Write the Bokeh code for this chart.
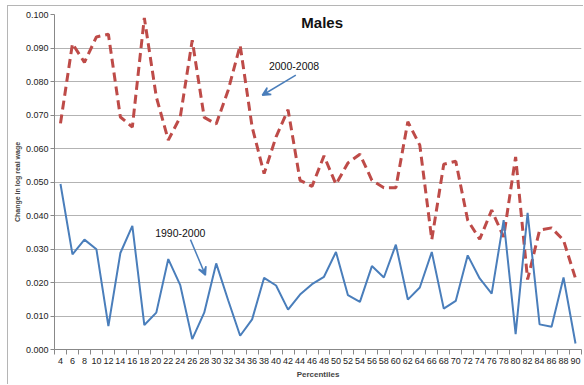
from bokeh.plotting import figure
from bokeh.models import Range1d, FixedTicker, Label, Arrow, VeeHead, CustomJSTickFormatter
from bokeh.embed import file_html
from bokeh.resources import INLINE

percentiles = list(range(4, 91, 2))
wage_2000_2008 = [0.0675, 0.0913, 0.0857, 0.0933, 0.0941, 0.0694, 0.0664, 0.0990, 0.0754, 0.0625,
                  0.0694, 0.0923, 0.0693, 0.0673, 0.0774, 0.0908, 0.0664, 0.0525, 0.0635, 0.0716,
                  0.0505, 0.0487, 0.0578, 0.0493, 0.0557, 0.0583, 0.0505, 0.0483, 0.0483, 0.0680,
                  0.0610, 0.0328, 0.0553, 0.0562, 0.0386, 0.0329, 0.0416, 0.0336, 0.0575, 0.0209,
                  0.0356, 0.0363, 0.0326, 0.0212]
wage_1990_2000 = [0.0494, 0.0284, 0.0328, 0.0299, 0.0070, 0.0288, 0.0369, 0.0073, 0.0110, 0.0270,
                  0.0192, 0.0031, 0.0110, 0.0257, 0.0147, 0.0041, 0.0090, 0.0214, 0.0191, 0.0119,
                  0.0164, 0.0195, 0.0217, 0.0291, 0.0162, 0.0142, 0.0249, 0.0215, 0.0313, 0.0149,
                  0.0185, 0.0291, 0.0122, 0.0145, 0.0281, 0.0212, 0.0167, 0.0386, 0.0046, 0.0408,
                  0.0075, 0.0068, 0.0215, 0.0018]
y_ticks = [round(0.01 * i, 3) for i in range(11)]
boundaries = [p - 1 for p in percentiles] + [percentiles[-1] + 1]

FONT = "Liberation Sans"
BLUE = "#4a7ebb"
RED = "#be4b48"

p = figure(width=576, height=379, output_backend="svg", toolbar_location=None,
           x_range=Range1d(3, 91), y_range=Range1d(0, 0.1),
           min_border_left=46, min_border_right=3, min_border_top=8, min_border_bottom=36)
p.styles = {"margin-left": "7px", "margin-top": "5px",
            "border-top": "1px solid #b5b5b5", "border-left": "1px solid #b5b5b5"}
p.outline_line_color = None
p.background_fill_color = "white"
p.border_fill_color = "white"

p.line(percentiles, wage_2000_2008, line_color=RED, line_width=3, line_dash="9 5")
p.line(percentiles, wage_1990_2000, line_color=BLUE, line_width=2)

# axes
p.xaxis.ticker = FixedTicker(ticks=percentiles, minor_ticks=boundaries)
p.xaxis.major_tick_line_color = None
p.xaxis.major_tick_out = 2
p.xaxis.major_tick_in = 0
p.xaxis.minor_tick_line_color = "#888888"
p.xaxis.minor_tick_out = 5
p.xaxis.minor_tick_in = 0
p.xaxis.axis_line_color = "#888888"
p.xaxis.major_label_text_font = FONT
p.xaxis.major_label_text_font_size = "9px"
p.xaxis.major_label_text_color = "#222222"
p.xaxis.major_label_standoff = 3
p.xaxis.axis_label = "Percentiles"
p.xaxis.axis_label_text_font = FONT
p.xaxis.axis_label_text_font_size = "8px"
p.xaxis.axis_label_text_font_style = "bold"
p.xaxis.axis_label_standoff = 3

p.yaxis.ticker = FixedTicker(ticks=y_ticks, minor_ticks=[])
p.yaxis.formatter = CustomJSTickFormatter(code="return tick.toFixed(3);")
p.yaxis.major_tick_line_color = "#888888"
p.yaxis.major_tick_out = 4
p.yaxis.major_tick_in = 0
p.yaxis.axis_line_color = "#888888"
p.yaxis.major_label_text_font = FONT
p.yaxis.major_label_text_font_size = "9px"
p.yaxis.major_label_text_color = "#222222"
p.yaxis.major_label_standoff = 2
p.yaxis.axis_label = "Change in log real wage"
p.yaxis.axis_label_text_font = FONT
p.yaxis.axis_label_text_font_size = "7px"
p.yaxis.axis_label_text_font_style = "bold"
p.yaxis.axis_label_standoff = 2

p.xgrid.grid_line_color = None
p.ygrid.ticker = FixedTicker(ticks=y_ticks)
p.ygrid.grid_line_color = "#b3b3b3"
p.ygrid.grid_line_width = 1.2

# annotations
p.add_layout(Label(x=47.7, y=0.0977, text="Males", text_font=FONT, text_font_size="15px",
                   text_font_style="bold", text_align="center", text_baseline="middle",
                   text_color="#111111"))
p.add_layout(Label(x=43.0, y=0.0846, text="2000-2008", text_font=FONT, text_font_size="10.5px",
                   text_align="center", text_baseline="middle", text_color="#111111"))
p.add_layout(Label(x=24.0, y=0.0347, text="1990-2000", text_font=FONT, text_font_size="10.5px",
                   text_align="center", text_baseline="middle", text_color="#111111"))
p.add_layout(Arrow(x_start=43.3, y_start=0.0819, x_end=37.7, y_end=0.0759,
                   line_color=BLUE, line_width=1.5,
                   end=VeeHead(size=8, line_color=BLUE, line_width=1.5, fill_color=BLUE)))
p.add_layout(Arrow(x_start=25.7, y_start=0.0328, x_end=28.2, y_end=0.0222,
                   line_color=BLUE, line_width=1.5,
                   end=VeeHead(size=8, line_color=BLUE, line_width=1.5, fill_color=BLUE)))

open("out.html", "w").write(file_html(p, INLINE))
